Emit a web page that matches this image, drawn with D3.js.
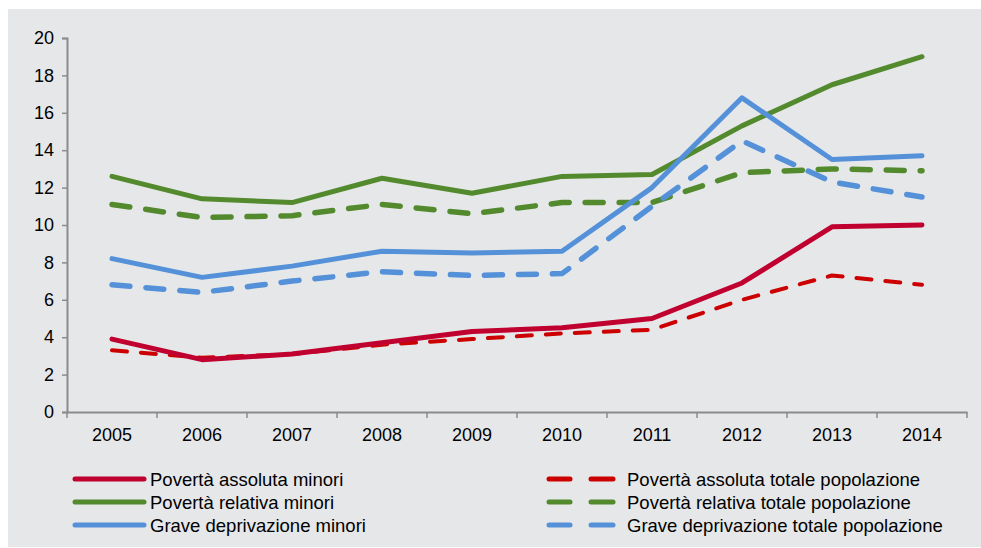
<!DOCTYPE html>
<html lang="it">
<head>
<meta charset="UTF-8">
<script src="https://d3js.org/d3.v7.min.js"></script>
<style>
  body { margin: 0; background: #fff; }
  svg { display: block; font-family: "Liberation Sans", Arial, sans-serif; }
</style>
</head>
<body>
<script>
const years = ["2005","2006","2007","2008","2009","2010","2011","2012","2013","2014"];
const assolutaMinori  = [3.9, 2.8, 3.1, 3.7, 4.3, 4.5, 5.0, 6.9, 9.9, 10.0];
const assolutaTotale  = [3.3, 2.9, 3.1, 3.6, 3.9, 4.2, 4.4, 6.0, 7.3, 6.8];
const relativaMinori  = [12.6, 11.4, 11.2, 12.5, 11.7, 12.6, 12.7, 15.3, 17.5, 19.0];
const relativaTotale  = [11.1, 10.4, 10.5, 11.1, 10.6, 11.2, 11.2, 12.8, 13.0, 12.9];
const graveMinori     = [8.2, 7.2, 7.8, 8.6, 8.5, 8.6, 12.0, 16.8, 13.5, 13.7];
const graveTotale     = [6.8, 6.4, 7.0, 7.5, 7.3, 7.4, 11.0, 14.5, 12.3, 11.5];
const yTicks = [0, 2, 4, 6, 8, 10, 12, 14, 16, 18, 20];

const series = [
  {name: "Povertà assoluta minori", values: assolutaMinori, color: "#c0002f", dash: null, w: 5},
  {name: "Povertà relativa minori", values: relativaMinori, color: "#538a2e", dash: null, w: 5},
  {name: "Grave deprivazione minori", values: graveMinori, color: "#5591d8", dash: null, w: 5},
  {name: "Povertà assoluta totale popolazione", values: assolutaTotale, color: "#cc0000", dash: "15,14", w: 4},
  {name: "Povertà relativa totale popolazione", values: relativaTotale, color: "#538a2e", dash: "18,16", w: 5.5},
  {name: "Grave deprivazione totale popolazione", values: graveTotale, color: "#5591d8", dash: "18,16", w: 5.5}
];

const W = 981, H = 548;
const svg = d3.select("body").append("svg").attr("width", W).attr("height", H);

svg.append("rect").attr("x", 8).attr("y", 9).attr("width", W - 8).attr("height", H - 10)
  .attr("fill", "#e6e7e9");

const x = d3.scaleBand().domain(years).range([67, 967]);
const y = d3.scaleLinear().domain([0, 20]).range([412, 38]);

// y axis
const yAxis = svg.append("g").attr("transform", "translate(67,0)")
  .call(d3.axisLeft(y).tickValues(yTicks).tickSize(5).tickPadding(8));
yAxis.select(".domain").attr("stroke", "#8c8c8c").attr("stroke-width", 2);
yAxis.selectAll(".tick line").attr("stroke", "#8c8c8c").attr("stroke-width", 1.5);
yAxis.selectAll("text").attr("font-size", 18).attr("fill", "#000")
  .attr("font-family", "Liberation Sans, Arial, sans-serif");

// x axis
const xAxis = svg.append("g").attr("transform", "translate(0,412)")
  .call(d3.axisBottom(x).tickSize(0).tickPadding(16));
xAxis.select(".domain").attr("stroke", "#8c8c8c").attr("stroke-width", 2);
xAxis.selectAll("text").attr("font-size", 18).attr("fill", "#000")
  .attr("font-family", "Liberation Sans, Arial, sans-serif");
const bounds = years.map(d => x(d)).concat([x.range()[1]]);
xAxis.selectAll(".btick").data(bounds).enter().append("line")
  .attr("x1", d => d).attr("x2", d => d).attr("y1", 0).attr("y2", 6)
  .attr("stroke", "#8c8c8c").attr("stroke-width", 1.5);

const line = d3.line()
  .x((d, i) => x(years[i]) + x.bandwidth() / 2)
  .y(d => y(d));

// draw dashed first, then solid above
const order = [4, 5, 3, 1, 2, 0];
order.forEach(k => {
  const s = series[k];
  svg.append("path").datum(s.values)
    .attr("d", line)
    .attr("fill", "none")
    .attr("stroke", s.color)
    .attr("stroke-width", s.w)
    .attr("stroke-linecap", "round")
    .attr("stroke-linejoin", "round")
    .attr("stroke-dasharray", s.dash);
});

// legend
const rowsY = [479, 502, 525];
series.forEach((s, i) => {
  const col = i < 3 ? 0 : 1;
  const row = i % 3;
  const g = svg.append("g").attr("transform", `translate(${col ? 549 : 75},${rowsY[row]})`);
  if (!s.dash) {
    g.append("line").attr("x1", 0).attr("x2", 69).attr("y1", 0).attr("y2", 0)
      .attr("stroke", s.color).attr("stroke-width", 5).attr("stroke-linecap", "round");
  } else {
    [[0, 21], [42, 64]].forEach(p => {
      g.append("line").attr("x1", p[0]).attr("x2", p[1]).attr("y1", 0).attr("y2", 0)
        .attr("stroke", s.color).attr("stroke-width", 5).attr("stroke-linecap", "round");
    });
  }
  g.append("text").attr("x", col ? 78 : 75).attr("y", 0).attr("dy", "0.36em")
    .attr("font-size", 18.5).attr("fill", "#000").text(s.name);
});
</script>
</body>
</html>
